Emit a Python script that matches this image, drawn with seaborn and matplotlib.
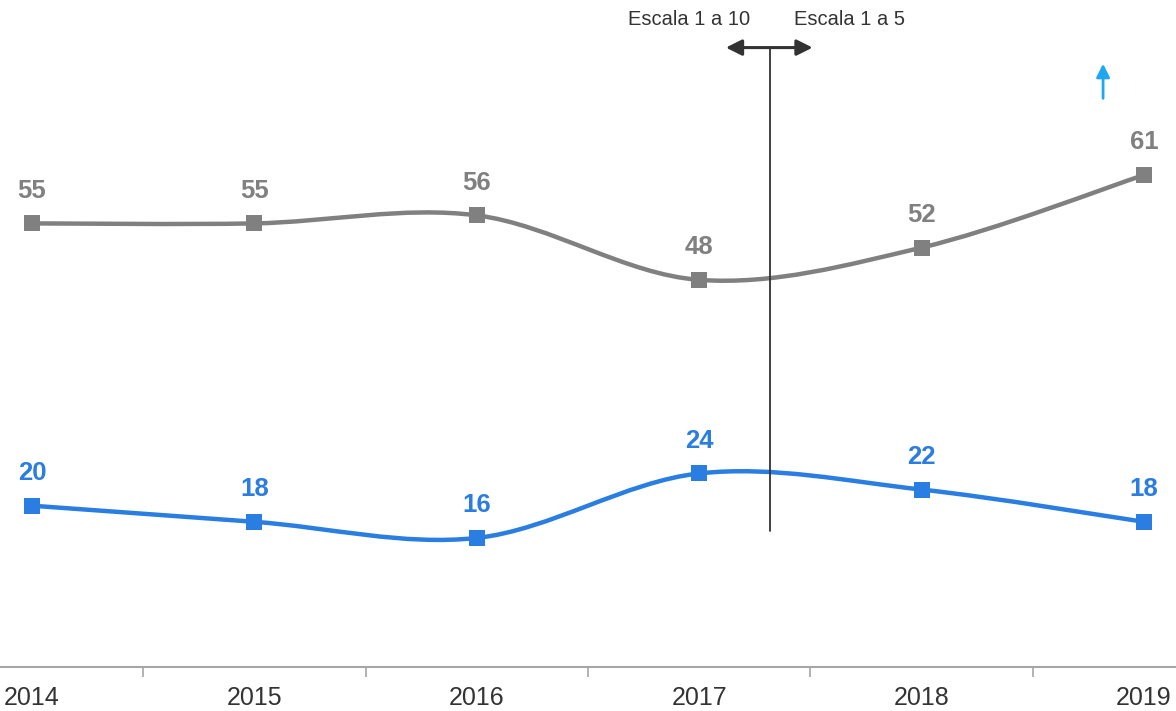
import numpy as np
import pandas as pd
import seaborn as sns
import matplotlib.pyplot as plt
from matplotlib.path import Path
from matplotlib.patches import PathPatch, FancyArrowPatch


YEARS = ["2014", "2015", "2016", "2017", "2018", "2019"]
SERIE_GRIS = [55, 55, 56, 48, 52, 61]
SERIE_AZUL = [20, 18, 16, 24, 22, 18]

GRIS = "#808080"
AZUL = "#2a7de1"


def smooth_path(xs, ys):
    """
    bezier path through the points (catmull-rom style, like the
    'smoothed line' option of a spreadsheet chart)
    """
    pts = np.column_stack([xs, ys]).astype(float)
    ext = np.vstack([pts[0], pts, pts[-1]])
    verts = [pts[0]]
    codes = [Path.MOVETO]
    for i in range(len(pts) - 1):
        p0, p1, p2, p3 = ext[i], ext[i + 1], ext[i + 2], ext[i + 3]
        verts += [p1 + (p2 - p0) / 6, p2 - (p3 - p1) / 6, p2]
        codes += [Path.CURVE4] * 3
    return Path(verts, codes)


sns.set_style("white")
plt.rcParams["font.family"] = ["Liberation Sans", "DejaVu Sans"]

df = pd.DataFrame({"year": YEARS, "gris": SERIE_GRIS, "azul": SERIE_AZUL})
df["pos"] = np.arange(len(df))

fig = plt.figure(figsize=(11.76, 7.11), dpi=100)
ax = fig.add_axes([0, 0.0619, 1, 0.9381])

for col, color in [("gris", GRIS), ("azul", AZUL)]:
    ax.add_patch(PathPatch(smooth_path(df["pos"], df[col]), facecolor="none",
                           edgecolor=color, lw=3.2, capstyle="round", zorder=2))
    sns.scatterplot(data=df, x="pos", y=col, marker="s", s=120, color=color,
                    linewidth=0, ax=ax, zorder=3)
    for x, v in zip(df["pos"], df[col]):
        ax.annotate(str(v), (x, v), xytext=(0, 15), textcoords="offset points",
                    ha="center", va="bottom", fontsize=18.5, fontweight="bold",
                    color=color)

# divider between the two scales
ax.plot([3.318, 3.318], [16.9, 76.8], color="#333333", lw=1.3, zorder=4)
ax.add_patch(FancyArrowPatch((3.12, 76.8), (3.51, 76.8), arrowstyle="<|-|>",
                             mutation_scale=24, color="#333333", lw=2.2,
                             shrinkA=0, shrinkB=0, zorder=4))
ax.text(3.228, 80.3, "Escala 1 a 10", ha="right", va="center", fontsize=14.5,
        color="#333333")
ax.text(3.426, 80.3, "Escala 1 a 5", ha="left", va="center", fontsize=14.5,
        color="#333333")

ax.add_patch(FancyArrowPatch((4.816, 70.5), (4.816, 74.8), arrowstyle="-|>",
                             mutation_scale=20, color="#1fa8ef", lw=2,
                             shrinkA=0, shrinkB=0))

ax.set_xlim(-0.144, 5.144)
ax.set_ylim(0, 82.7)
ax.set_xticks(df["pos"], YEARS)
ax.set_xticks(df["pos"][:-1] + 0.5, minor=True)
ax.tick_params(axis="x", which="major", length=0, pad=14, labelsize=18,
               labelcolor="#333333")
ax.tick_params(axis="x", which="minor", length=7, width=1.2, color="#a6a6a6",
               bottom=True)
ax.set_yticks([])
ax.set_xlabel("")
ax.set_ylabel("")
for side in ["top", "left", "right"]:
    ax.spines[side].set_visible(False)
ax.spines["bottom"].set_color("#a6a6a6")
ax.spines["bottom"].set_linewidth(1.5)

fig.savefig("out.png", dpi=100)
